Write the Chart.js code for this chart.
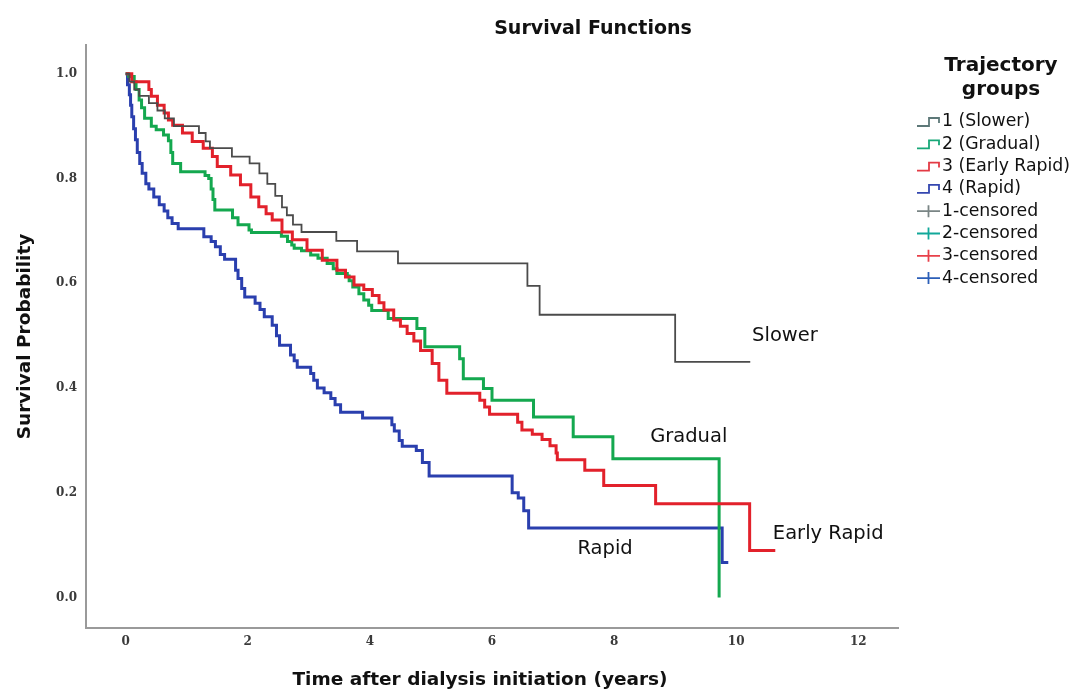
<!DOCTYPE html>
<html><head><meta charset="utf-8">
<script src="https://cdn.jsdelivr.net/npm/chart.js@4.4.1/dist/chart.umd.min.js"></script>
<style>html,body{margin:0;padding:0;background:#fff}#wrap{width:1084px;height:692px;position:relative}</style>
</head><body><div id="wrap"><canvas id="c"></canvas></div>
<script>
// ---- Data (Kaplan-Meier step points: time in years, survival probability) ----
const slowerT = [0, 0.06, 0.14, 0.22, 0.38, 0.52, 0.64, 0.79, 1.20, 1.31, 1.38, 1.74, 2.03, 2.19, 2.32, 2.45, 2.56, 2.64, 2.74, 2.88, 3.45, 3.79, 4.46, 6.58, 6.78, 9.00, 10.23];
const slowerS = [1.000, 0.985, 0.970, 0.958, 0.944, 0.930, 0.915, 0.900, 0.887, 0.871, 0.858, 0.842, 0.829, 0.810, 0.790, 0.767, 0.745, 0.730, 0.712, 0.698, 0.681, 0.661, 0.638, 0.595, 0.540, 0.450, 0.450];

const gradualT = [0, 0.05, 0.14, 0.17, 0.22, 0.26, 0.31, 0.42, 0.50, 0.62, 0.70, 0.74, 0.77, 0.90, 1.30, 1.36, 1.40, 1.43, 1.46, 1.75, 1.84, 2.02, 2.06, 2.55, 2.65, 2.72, 2.76, 2.88, 3.03, 3.15, 3.30, 3.40, 3.46, 3.63, 3.66, 3.72, 3.82, 3.90, 3.98, 4.03, 4.30, 4.77, 4.90, 5.47, 5.53, 5.86, 6.00, 6.68, 7.33, 7.98, 9.72];
const gradualS = [1.000, 0.995, 0.985, 0.970, 0.950, 0.935, 0.915, 0.900, 0.893, 0.883, 0.872, 0.850, 0.829, 0.813, 0.806, 0.800, 0.780, 0.760, 0.740, 0.725, 0.712, 0.702, 0.697, 0.690, 0.680, 0.673, 0.667, 0.662, 0.654, 0.648, 0.638, 0.628, 0.619, 0.614, 0.605, 0.593, 0.580, 0.568, 0.558, 0.548, 0.533, 0.514, 0.479, 0.456, 0.418, 0.399, 0.377, 0.345, 0.307, 0.265, 0.000];

const earlyRapidT = [0, 0.10, 0.38, 0.42, 0.52, 0.63, 0.70, 0.77, 0.93, 1.09, 1.27, 1.42, 1.50, 1.72, 1.88, 2.05, 2.18, 2.30, 2.40, 2.56, 2.73, 2.97, 3.22, 3.46, 3.60, 3.74, 3.90, 4.04, 4.15, 4.23, 4.39, 4.50, 4.61, 4.72, 4.83, 5.02, 5.13, 5.26, 5.80, 5.88, 5.96, 6.42, 6.49, 6.66, 6.82, 6.95, 7.05, 7.07, 7.52, 7.83, 8.68, 10.22, 10.64];
const earlyRapidS = [1.000, 0.985, 0.970, 0.957, 0.940, 0.925, 0.912, 0.902, 0.887, 0.871, 0.858, 0.842, 0.823, 0.807, 0.788, 0.765, 0.746, 0.733, 0.721, 0.698, 0.683, 0.663, 0.644, 0.625, 0.612, 0.597, 0.588, 0.577, 0.563, 0.549, 0.530, 0.518, 0.504, 0.490, 0.472, 0.447, 0.415, 0.390, 0.377, 0.364, 0.350, 0.335, 0.320, 0.312, 0.302, 0.290, 0.276, 0.263, 0.243, 0.214, 0.179, 0.090, 0.090];

const rapidT = [0, 0.03, 0.06, 0.08, 0.10, 0.13, 0.16, 0.19, 0.23, 0.27, 0.33, 0.38, 0.46, 0.55, 0.63, 0.69, 0.76, 0.86, 1.28, 1.40, 1.47, 1.55, 1.62, 1.80, 1.84, 1.90, 1.95, 2.12, 2.20, 2.27, 2.40, 2.47, 2.52, 2.70, 2.76, 2.81, 3.03, 3.08, 3.14, 3.25, 3.36, 3.43, 3.52, 3.88, 4.36, 4.40, 4.48, 4.53, 4.76, 4.86, 4.97, 6.33, 6.43, 6.52, 6.60, 9.77, 9.87];
const rapidS = [1.000, 0.979, 0.960, 0.940, 0.918, 0.895, 0.874, 0.850, 0.829, 0.810, 0.790, 0.780, 0.765, 0.750, 0.738, 0.725, 0.714, 0.704, 0.689, 0.680, 0.670, 0.655, 0.646, 0.625, 0.609, 0.590, 0.574, 0.562, 0.550, 0.536, 0.520, 0.500, 0.482, 0.463, 0.452, 0.440, 0.428, 0.415, 0.400, 0.391, 0.380, 0.368, 0.354, 0.343, 0.330, 0.318, 0.300, 0.289, 0.281, 0.258, 0.232, 0.200, 0.190, 0.166, 0.133, 0.067, 0.067];

const xTicks = [0, 2, 4, 6, 8, 10, 12];
const yTicks = [0.0, 0.2, 0.4, 0.6, 0.8, 1.0];
const groupNames = ['1 (Slower)', '2 (Gradual)', '3 (Early Rapid)', '4 (Rapid)'];
const censoredNames = ['1-censored', '2-censored', '3-censored', '4-censored'];
const curveLabels = ['Slower', 'Gradual', 'Early Rapid', 'Rapid'];

// ---- Styling ----
const lineColors = ['#4b4b4b', '#14a84f', '#e2212b', '#2a3fae'];
const legendLineColors = ['#5d7878', '#18a878', '#e33a45', '#3447b0'];
const censorColors = ['#7a8585', '#12a89a', '#e8404a', '#2c5fb8'];
const lineWidths = [1.8, 3, 3, 3];
// anchor (data coords) of the curve name labels: left edge, vertical centre
const labelAnchors = [[10.26, 0.499], [8.59, 0.306], [10.6, 0.122], [7.4, 0.092]];

function pts(t, s) { return t.map((v, i) => ({x: v, y: s[i]})); }
const series = [pts(slowerT, slowerS), pts(gradualT, gradualS), pts(earlyRapidT, earlyRapidS), pts(rapidT, rapidS)];
const drawOrder = [0, 2, 1, 3];

const datasets = drawOrder.map(i => ({
  label: groupNames[i], data: series[i], stepped: true, borderColor: lineColors[i],
  borderWidth: lineWidths[i], pointRadius: 0, fill: false, borderJoinStyle: 'miter', borderCapStyle: 'butt'
}));

const uiFont = '"DejaVu Sans", "Open Sans", sans-serif';
const tickFont = { family: '"DejaVu Serif", serif', size: 12, weight: 'bold' };

const decor = {
  id: 'decor',
  afterDraw(chart) {
    const ctx = chart.ctx; const xs = chart.scales.x, ys = chart.scales.y;
    ctx.save();
    // main title
    ctx.fillStyle = '#111'; ctx.textAlign = 'center'; ctx.textBaseline = 'middle';
    ctx.font = 'bold 19px ' + uiFont;
    ctx.fillText('Survival Functions', 593, 29);
    // x axis title
    ctx.font = 'bold 18.5px ' + uiFont;
    ctx.fillText('Time after dialysis initiation (years)', 480, 680);
    // curve labels
    ctx.font = '19.5px ' + uiFont; ctx.textAlign = 'left'; ctx.fillStyle = '#111';
    curveLabels.forEach((t, i) => {
      ctx.fillText(t, xs.getPixelForValue(labelAnchors[i][0]), ys.getPixelForValue(labelAnchors[i][1]));
    });
    // legend
    ctx.textAlign = 'center'; ctx.font = 'bold 20px ' + uiFont;
    ctx.fillText('Trajectory', 1001, 66);
    ctx.fillText('groups', 1001, 90);
    ctx.textAlign = 'left'; ctx.font = '17.3px ' + uiFont; ctx.fillStyle = '#111';
    const x0 = 917, rowY0 = 122, dy = 22.3;
    groupNames.forEach((n, i) => {
      const y = rowY0 + i * dy;
      ctx.strokeStyle = legendLineColors[i]; ctx.lineWidth = 1.8;
      ctx.beginPath();
      ctx.moveTo(x0, y + 4); ctx.lineTo(x0 + 12, y + 4); ctx.lineTo(x0 + 12, y - 4);
      ctx.lineTo(x0 + 22, y - 4); ctx.lineTo(x0 + 22, y + 1); ctx.stroke();
      ctx.fillText(n, x0 + 25, y);
    });
    censoredNames.forEach((n, i) => {
      const y = rowY0 + (i + 4) * dy;
      ctx.strokeStyle = censorColors[i]; ctx.lineWidth = 1.8;
      ctx.beginPath();
      ctx.moveTo(x0, y); ctx.lineTo(x0 + 23, y);
      ctx.moveTo(x0 + 11.5, y - 6); ctx.lineTo(x0 + 11.5, y + 6); ctx.stroke();
      ctx.fillText(n, x0 + 25, y);
    });
    ctx.restore();
  }
};

new Chart(document.getElementById('c'), {
  type: 'line',
  data: { datasets },
  options: {
    responsive: true, maintainAspectRatio: false, animation: false,
    layout: { padding: { top: 45, right: 186, left: 0, bottom: 0 } },
    plugins: { legend: { display: false }, tooltip: { enabled: false }, title: { display: false } },
    scales: {
      x: {
        type: 'linear', min: -0.65, max: 12.65,
        afterBuildTicks: s => { s.ticks = xTicks.map(v => ({value: v})); },
        afterFit: s => { s.height = 64; },
        grid: { display: false, drawTicks: false },
        border: { display: true, color: '#9a9a9a', width: 2 },
        ticks: { autoSkip: false, maxRotation: 0, padding: 7, color: '#3a3a3a', font: tickFont,
                 callback: v => String(v) },
        title: { display: false }
      },
      y: {
        type: 'linear', min: -0.058, max: 1.055,
        afterBuildTicks: s => { s.ticks = yTicks.map(v => ({value: v})); },
        afterFit: s => { s.width = 86; },
        grid: { display: false, drawTicks: false },
        border: { display: true, color: '#9a9a9a', width: 2 },
        ticks: { autoSkip: false, padding: 9, color: '#3a3a3a', font: tickFont,
                 callback: v => Number(v).toFixed(1) },
        title: { display: true, text: 'Survival Probability', color: '#111',
                 font: { family: uiFont, size: 18.5, weight: 'bold', lineHeight: 1.2 }, padding: { top: 14, bottom: 0 } }
      }
    }
  },
  plugins: [decor]
});
</script></body></html>
